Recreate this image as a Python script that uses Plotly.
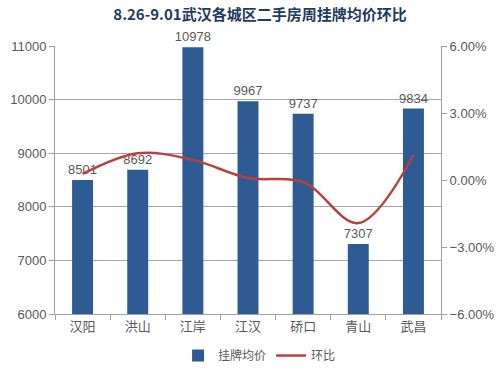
import plotly.graph_objects as go

districts = ["汉阳", "洪山", "江岸", "江汉", "硚口", "青山", "武昌"]
avg_price = [8501, 8692, 10978, 9967, 9737, 7307, 9834]
mom_change = [0.0027, 0.0120, 0.0090, 0.0009, -0.0009, -0.0193, 0.0112]

cjk_font = "Noto Sans CJK SC, sans-serif"
num_font = "Liberation Sans, Arial, sans-serif"
grey = "#595959"

fig = go.Figure()
fig.add_trace(go.Bar(
    x=districts, y=avg_price, name="挂牌均价",
    marker=dict(color="#2F5B94", line=dict(width=0)),
    text=[str(v) for v in avg_price], textposition="outside",
    textfont=dict(size=13, color=grey, family=num_font), cliponaxis=False,
    constraintext="none",
))
fig.add_trace(go.Scatter(
    x=districts, y=mom_change, name="环比", yaxis="y2",
    mode="lines", line=dict(color="#B8413F", width=2.5, shape="spline", smoothing=1.0),
))

fig.update_layout(
    template="none",
    width=500, height=379,
    margin=dict(l=55, r=59, t=46, b=65, autoexpand=False),
    paper_bgcolor="white", plot_bgcolor="white",
    font=dict(family=cjk_font, size=12, color=grey),
    title=dict(text="<b>8.26-9.01武汉各城区二手房周挂牌均价环比</b>",
               x=0.52, xanchor="center", y=0.962, yanchor="middle",
               font=dict(size=15, color="#1F3A5F")),
    bargap=0.62,
    showlegend=True,
    legend=dict(orientation="h", x=0.53, xanchor="center", y=-0.155, yanchor="middle",
                font=dict(size=12, color=grey)),
    xaxis=dict(showline=True, linecolor="#A0A0A0", ticks="outside", ticklen=5,
               tickcolor="#A0A0A0", tickson="boundaries", showgrid=False,
               automargin=False, tickfont=dict(size=13, color=grey)),
    yaxis=dict(range=[6000, 11000], dtick=1000, tickformat="d", showgrid=True,
               gridcolor="#A6A6A6", gridwidth=1, showline=True, linecolor="#A0A0A0",
               ticks="outside", ticklen=5, tickcolor="#A0A0A0", zeroline=False,
               automargin=False, tickfont=dict(size=13, color=grey, family=num_font)),
    yaxis2=dict(range=[-0.06, 0.06], dtick=0.03, tickformat=".2%", overlaying="y",
                side="right", showgrid=False, showline=True, linecolor="#A0A0A0",
                ticks="outside", ticklen=5, tickcolor="#A0A0A0", zeroline=False,
                automargin=False, tickfont=dict(size=13, color=grey, family=num_font)),
)

fig.write_html("out.html",
               config={"displayModeBar": False},
               post_script="document.body.style.margin='0';document.body.style.padding='0';")
